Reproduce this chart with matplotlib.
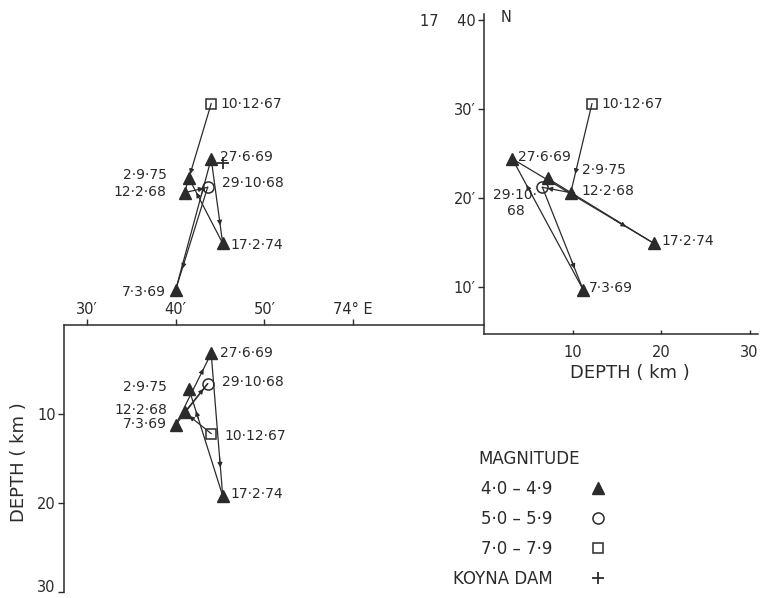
import numpy as np
import matplotlib.pyplot as plt
from matplotlib.lines import Line2D

# events in time order; lon/lat in minutes past 73 E / 17 N
events = ["10·12·67", "12·2·68", "29·10·68", "7·3·69", "27·6·69", "17·2·74", "2·9·75"]
mag_class = ["7", "4", "5", "4", "4", "4", "4"]
lon_min = [44.0, 41.0, 43.6, 40.0, 44.0, 45.3, 41.5]
lat_min = [30.6, 20.6, 21.2, 9.7, 24.4, 14.9, 22.2]
depth_km = [12.2, 9.8, 6.6, 11.2, 3.2, 19.2, 7.2]
dam_lon, dam_lat = 45.3, 23.9

lon_ticks = [30, 40, 50, 60]
lon_labels = ["30′", "40′", "50′", "74° E"]
lat_ticks = [10, 20, 30, 40]
lat_labels = ["10′", "20′", "30′", "17    40"]
depth_ticks = [10, 20, 30]

legend_rows = [("4·0 – 4·9", "4"), ("5·0 – 5·9", "5"), ("7·0 – 7·9", "7")]

INK = "#2b2b2b"
MARK = {"4": dict(marker="^", ms=8, mfc=INK, mec=INK),
        "5": dict(marker="o", ms=8, mfc="none", mec=INK, mew=1.1),
        "7": dict(marker="s", ms=7, mfc="none", mec=INK, mew=1.1)}

# label offsets (pixels) for each panel: map, lat-depth, lon-depth
off_map = {"10·12·67": (9, 0, "left"), "27·6·69": (9, 2, "left"), "29·10·68": (14, 4, "left"),
           "17·2·74": (8, -2, "left"), "2·9·75": (-22, 3, "right"), "12·2·68": (-18, 1, "right"),
           "7·3·69": (-10, -2, "right")}
off_lat = {"10·12·67": (9, 0, "left"), "27·6·69": (6, 2, "left"), "2·9·75": (34, 8, "left"),
           "12·2·68": (11, 2, "left"), "29·10·68": (-27, -16, "center"),
           "17·2·74": (8, 2, "left"), "7·3·69": (6, 2, "left")}
off_lon = {"27·6·69": (9, 0, "left"), "29·10·68": (14, 2, "left"), "10·12·67": (13, -2, "left"),
           "17·2·74": (8, 2, "left"), "2·9·75": (-22, 2, "right"), "12·2·68": (-17, 2, "right"),
           "7·3·69": (-9, 1, "right")}

W, H = 763, 598
fig = plt.figure(figsize=(W / 100, H / 100), dpi=100, facecolor="white")
plt.rcParams["font.family"] = "DejaVu Sans"


def box(x0, ytop, x1, ybot):
    return [x0 / W, 1 - ybot / H, (x1 - x0) / W, (ybot - ytop) / H]


SX, SY = 8.87, 8.9
lon_of = lambda px: 30 + (px - 87) / SX
lat_of = lambda py: 10 + (287 - py) / SY

ax_map = fig.add_axes(box(64, 0, 484, 325))
ax_lat = fig.add_axes(box(484, 0, W, 334))
ax_lon = fig.add_axes(box(64, 325, 484, H))
for a in (ax_map, ax_lat, ax_lon):
    a.set_facecolor("none")
    for s in a.spines.values():
        s.set_visible(False)
        s.set_color(INK)
        s.set_linewidth(1.1)

ax_map.set_xlim(lon_of(64), lon_of(484))
ax_map.set_ylim(lat_of(325), lat_of(0))
ax_map.set_xticks([])
ax_map.set_yticks([])

ax_lat.set_xlim(0, (W - 484) / 8.85)
ax_lat.set_ylim(lat_of(334), lat_of(0))
ax_lon.set_xlim(lon_of(64), lon_of(484))
ax_lon.set_ylim((H - 325) / SY, 0)


def draw(ax, xs, ys, offs):
    for i in range(len(xs) - 1):
        ax.plot([xs[i], xs[i + 1]], [ys[i], ys[i + 1]], color=INK, lw=0.9, zorder=2)
        p0 = np.array([xs[i], ys[i]])
        p1 = np.array([xs[i + 1], ys[i + 1]])
        ax.annotate("", xy=p0 + 0.82 * (p1 - p0), xytext=p0 + 0.7 * (p1 - p0),
                    arrowprops=dict(arrowstyle="-|>", mutation_scale=7, lw=0.8, color=INK))
    for x, y, name, m in zip(xs, ys, events, mag_class):
        ax.plot(x, y, ls="none", zorder=3, **MARK[m])
        dx, dy, ha = offs[name]
        txt = name
        if ax is ax_lat and name == "29·10·68":
            txt = "29·10·\n68"
        ax.annotate(txt, (x, y), xytext=(dx, dy), textcoords="offset pixels",
                    ha=ha, va="center", fontsize=10, color=INK, multialignment="center")


draw(ax_map, lon_min, lat_min, off_map)
ax_map.plot(dam_lon, dam_lat, marker="+", ms=9, mew=1.3, color=INK, ls="none")
draw(ax_lat, depth_km, lat_min, off_lat)
draw(ax_lon, lon_min, depth_km, off_lon)

# lat-depth panel axes
ax_lat.spines["left"].set_visible(True)
ax_lat.spines["left"].set_bounds(lat_of(334), lat_of(14))
ax_lat.spines["bottom"].set_visible(True)
ax_lat.spines["bottom"].set_bounds(0, 31)
ax_lat.set_yticks(lat_ticks, lat_labels)
ax_lat.set_xticks(depth_ticks, [str(t) for t in depth_ticks])
ax_lat.tick_params(axis="y", direction="out", length=4, width=1, color=INK, labelcolor=INK,
                   labelsize=10.5, pad=2)
ax_lat.tick_params(axis="x", direction="in", length=3, width=1, color=INK, labelcolor=INK,
                   labelsize=10.5, pad=8)
ax_lat.set_xlabel("DEPTH ( km )", fontsize=13, color=INK)
ax_lat.xaxis.set_label_coords((630 - 484) / (W - 484), -(364 - 334) / 334)
ax_lat.annotate("N", (0, lat_of(18)), xytext=(17, 0), textcoords="offset pixels",
                ha="left", va="center", fontsize=10.5, color=INK)

# lon-depth panel axes
ax_lon.spines["top"].set_visible(True)
ax_lon.spines["left"].set_visible(True)
ax_lon.spines["left"].set_bounds(0, 30)
ax_lon.xaxis.tick_top()
ax_lon.set_xticks(lon_ticks, lon_labels)
ax_lon.set_yticks(depth_ticks, [str(t) for t in depth_ticks])
ax_lon.tick_params(axis="both", direction="out", length=4, width=1, color=INK, labelcolor=INK,
                   labelsize=10.5, pad=2)
ax_lon.get_yticklabels()[-1].set_va("baseline")
ax_lon.set_ylabel("DEPTH ( km )", fontsize=13, color=INK)
ax_lon.yaxis.set_label_coords(-(64 - 28) / 420, 1 - (462 - 325) / (H - 325))

# legend
handles = [Line2D([], [], ls="none", **MARK[m]) for _, m in legend_rows]
handles.append(Line2D([], [], ls="none", marker="+", ms=8, mew=1.3, color=INK))
labels = [t for t, _ in legend_rows] + ["KOYNA DAM"]
leg = fig.legend(handles, labels, title="MAGNITUDE", loc="upper left",
                 bbox_to_anchor=(453 / W, 1 - 450 / H), markerfirst=False, frameon=False,
                 fontsize=12, title_fontsize=12, borderpad=0, borderaxespad=0,
                 handlelength=1.0, handletextpad=2.2, labelspacing=0.72)
for t in leg.get_texts():
    t.set_color(INK)
leg.get_title().set_color(INK)

fig.savefig("out.png", dpi=100, facecolor="white")
